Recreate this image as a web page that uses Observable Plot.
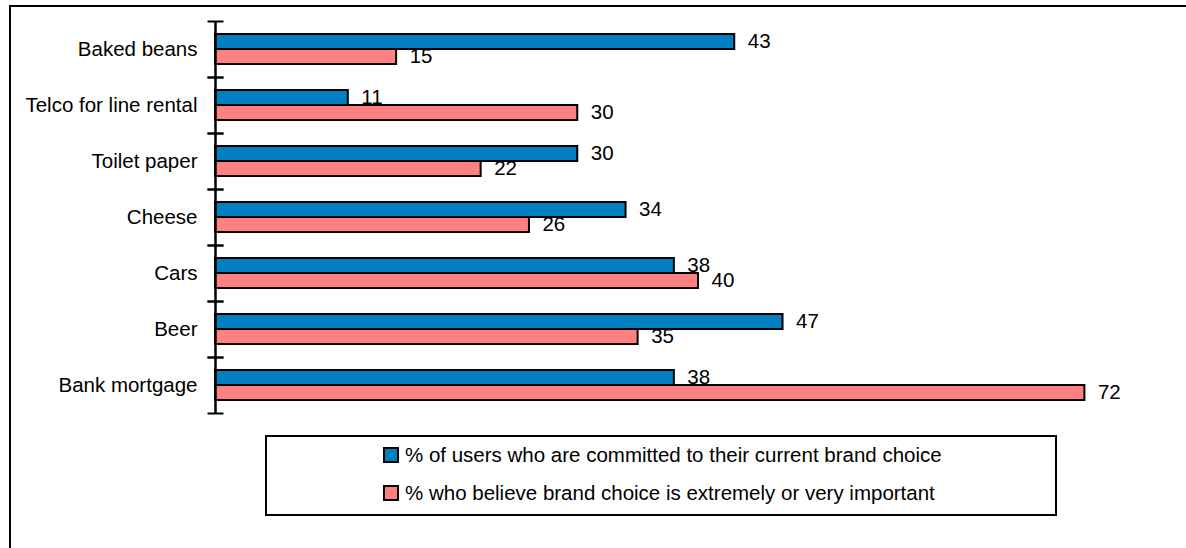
<!DOCTYPE html>
<html>
<head>
<meta charset="utf-8">
<script src="https://cdn.jsdelivr.net/npm/d3@7"></script>
<script src="https://cdn.jsdelivr.net/npm/@observablehq/plot@0.6"></script>
<style>
  html, body { margin: 0; padding: 0; background: #fff; }
  body { width: 1186px; height: 548px; position: relative; overflow: hidden; font-family: "Liberation Sans", Arial, sans-serif; }
  #frame { position: absolute; left: 9px; top: 5px; width: 1200px; height: 600px; border-top: 2px solid #000; border-left: 2px solid #000; }
  #chart { position: absolute; left: 0; top: 0; }
  #legend { position: absolute; left: 265px; top: 435px; width: 788px; height: 77px; border: 2px solid #000; background: #fff; }
  .item { position: absolute; left: 116px; height: 20px; display: flex; align-items: center; font-size: 20.5px; color: #000; white-space: nowrap; }
  .sw { width: 12px; height: 12px; border: 2px solid #000; margin-right: 6px; }
</style>
</head>
<body>
<div id="frame"></div>
<div id="chart"></div>
<div id="legend"></div>
<script>
const categories = ["Baked beans", "Telco for line rental", "Toilet paper", "Cheese", "Cars", "Beer", "Bank mortgage"];
const committed = [43, 11, 30, 34, 38, 47, 38];
const important = [15, 30, 22, 26, 40, 35, 72];
const seriesNames = [
  "% of users who are committed to their current brand choice",
  "% who believe brand choice is extremely or very important"
];
const seriesColors = ["#0080c0", "#ff8080"];

const rows = [];
categories.forEach((c, i) => {
  rows.push({category: c, series: seriesNames[0], value: committed[i]});
  rows.push({category: c, series: seriesNames[1], value: important[i]});
});

const plot = Plot.plot({
  width: 1186,
  height: 426,
  marginLeft: 215,
  marginRight: 5,
  marginTop: 18,
  marginBottom: 10,
  style: {fontFamily: "'Liberation Sans', Arial, sans-serif", fontSize: "20px", color: "#000", background: "transparent"},
  x: {domain: [0, 80], axis: null},
  y: {domain: seriesNames, axis: null, paddingInner: 0, paddingOuter: 0.777},
  fy: {domain: categories, padding: 0, label: null},
  color: {domain: seriesNames, range: seriesColors},
  marks: [
    Plot.barX(rows, {fy: "category", y: "series", x: "value", fill: "series", stroke: "#000", strokeWidth: 2}),
    Plot.text(rows, {fy: "category", y: "series", x: "value", text: d => String(d.value), textAnchor: "start", dx: 13, dy: -1, fontSize: 20.5, fill: "#000"}),
    Plot.ruleX([0], {stroke: "#000", strokeWidth: 2.5}),
    Plot.frame({anchor: "top", insetLeft: -7, insetRight: 959, stroke: "#000", strokeWidth: 2}),
    Plot.frame({anchor: "bottom", insetLeft: -7, insetRight: 959, stroke: "#000", strokeWidth: 2}),
    Plot.axisFy({anchor: "left", tickSize: 0, tickPadding: 18, fontSize: 20.5, label: null})
  ]
});
document.getElementById("chart").appendChild(plot);

const legend = document.getElementById("legend");
seriesNames.forEach((name, i) => {
  const item = document.createElement("div");
  item.className = "item";
  item.style.top = (8 + i * 38) + "px";
  const sw = document.createElement("div");
  sw.className = "sw";
  sw.style.background = seriesColors[i];
  const t = document.createElement("span");
  t.textContent = name;
  item.appendChild(sw);
  item.appendChild(t);
  legend.appendChild(item);
});
</script>
</body>
</html>
